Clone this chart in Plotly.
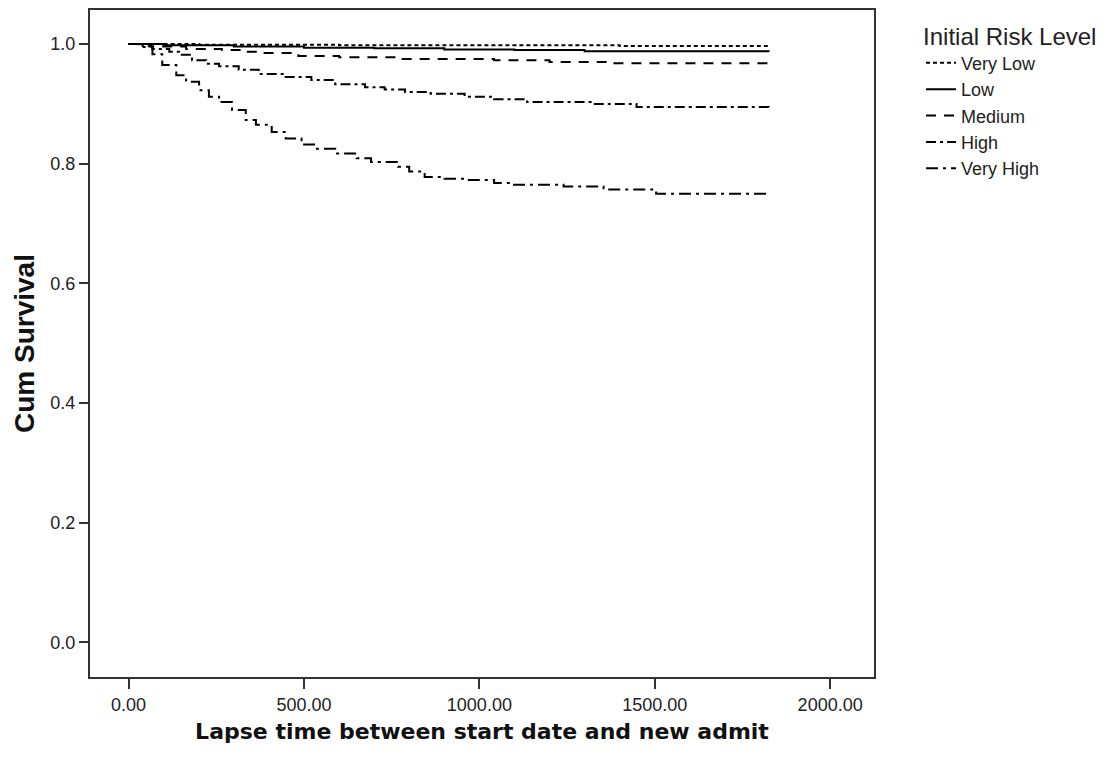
import plotly.graph_objects as go

# ---- data (Kaplan-Meier style step curves) ----
groups = ["Very Low", "Low", "Medium", "High", "Very High"]

t_very_low = [0, 200, 600, 1000, 1400, 1825]
s_very_low = [1.0, 0.999, 0.998, 0.998, 0.997, 0.997]

t_low = [0, 100, 300, 500, 700, 900, 1100, 1300, 1825]
s_low = [1.0, 0.998, 0.996, 0.994, 0.993, 0.991, 0.990, 0.988, 0.987]

t_medium = [0, 60, 164, 266, 320, 371, 484, 600, 768, 1042, 1200, 1371, 1825]
s_medium = [1.0, 0.996, 0.992, 0.990, 0.987, 0.985, 0.980, 0.978, 0.975, 0.973, 0.970, 0.968, 0.966]

t_high = [0, 40, 68, 116, 144, 181, 221, 258, 314, 371, 448, 521, 589,
          674, 730, 788, 861, 958, 1042, 1136, 1325, 1448, 1825]
s_high = [1.0, 0.997, 0.992, 0.987, 0.982, 0.973, 0.967, 0.963, 0.957, 0.950,
          0.945, 0.940, 0.933, 0.928, 0.924, 0.920, 0.917, 0.912, 0.908, 0.903,
          0.900, 0.895, 0.892]

t_very_high = [0, 31, 68, 96, 136, 164, 201, 229, 258, 295, 334, 363, 408, 448,
               493, 533, 589, 650, 691, 768, 800, 844, 900, 958, 1042, 1088,
               1240, 1354, 1504, 1825]
s_very_high = [1.0, 0.995, 0.983, 0.965, 0.948, 0.937, 0.923, 0.912, 0.903, 0.890,
               0.873, 0.865, 0.853, 0.842, 0.832, 0.825, 0.817, 0.809, 0.803, 0.795,
               0.787, 0.778, 0.775, 0.773, 0.768, 0.765, 0.762, 0.757, 0.750, 0.748]

x_ticks = [0, 500, 1000, 1500, 2000]
x_tick_labels = ["0.00", "500.00", "1000.00", "1500.00", "2000.00"]
y_ticks = [0.0, 0.2, 0.4, 0.6, 0.8, 1.0]
y_tick_labels = ["0.0", "0.2", "0.4", "0.6", "0.8", "1.0"]

series = [
    (groups[0], t_very_low, s_very_low, "4px,3px"),
    (groups[1], t_low, s_low, "solid"),
    (groups[2], t_medium, s_medium, "10px,8px"),
    (groups[3], t_high, s_high, "10px,4px,3px,4px"),
    (groups[4], t_very_high, s_very_high, "12px,5px,3px,5px"),
]

fig = go.Figure()
for name, t, s, dash in series:
    fig.add_trace(go.Scatter(
        x=t, y=s, mode="lines", name=name,
        line=dict(color="black", width=2, dash=dash, shape="hv"),
    ))

font_main = "Liberation Sans, Arial, sans-serif"

fig.update_layout(
    width=1112, height=769,
    margin=dict(l=90, r=238, t=8, b=92),
    paper_bgcolor="white", plot_bgcolor="white",
    font=dict(family=font_main, size=18, color="#222"),
    showlegend=True,
    legend=dict(
        title=dict(text="Initial Risk Level", font=dict(size=24, family=font_main, color="#222")),
        x=1.06, y=0.995, xanchor="left", yanchor="top",
        font=dict(size=18, family=font_main, color="#222"),
        itemwidth=30, tracegroupgap=0,
        bgcolor="rgba(0,0,0,0)",
    ),
    xaxis=dict(
        range=[-110, 2125], tickvals=x_ticks, ticktext=x_tick_labels,
        showgrid=False, zeroline=False,
        showline=True, mirror=True, linecolor="#333", linewidth=2,
        ticks="outside", ticklen=10, tickwidth=2, tickcolor="#333",
        tickfont=dict(size=18, family=font_main, color="#222"),
        title=dict(text="<b>Lapse time between start date and new admit</b>",
                   font=dict(size=22, family="DejaVu Sans, sans-serif", color="#111"),
                   standoff=10),
    ),
    yaxis=dict(
        range=[-0.058, 1.057], tickvals=y_ticks, ticktext=y_tick_labels,
        showgrid=False, zeroline=False,
        showline=True, mirror=True, linecolor="#333", linewidth=2,
        ticks="outside", ticklen=9, tickwidth=2, tickcolor="#333",
        tickfont=dict(size=18, family=font_main, color="#222"),
        title=dict(text="<b>Cum Survival</b>",
                   font=dict(size=28, family=font_main, color="#111"),
                   standoff=8),
    ),
)

fig.write_html("out.html")
